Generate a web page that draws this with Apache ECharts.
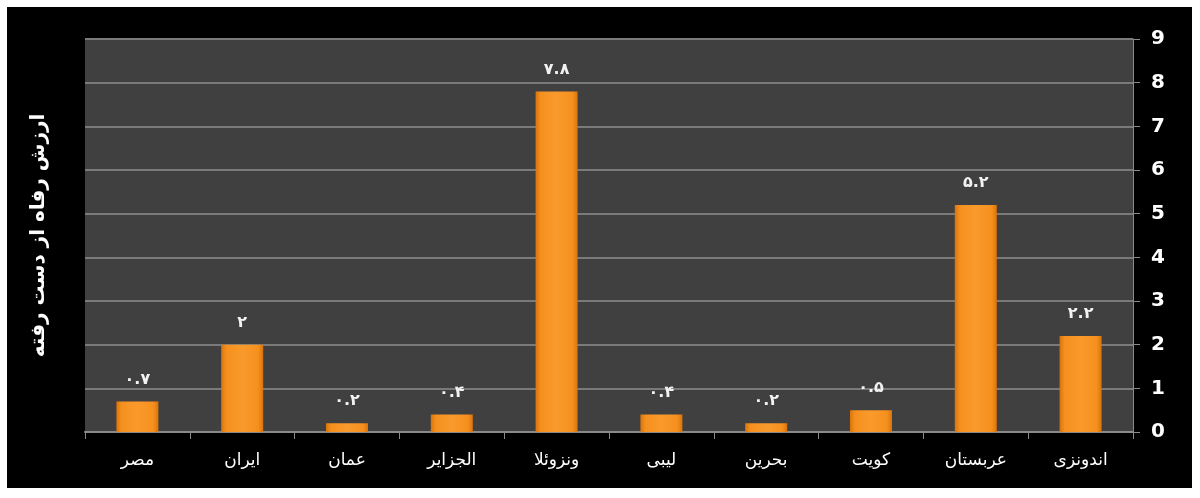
<!DOCTYPE html>
<html>
<head>
<meta charset="utf-8">
<script src="https://cdn.jsdelivr.net/npm/echarts@6/dist/echarts.min.js"></script>
<style>
html,body{margin:0;padding:0;background:#fff;width:1200px;height:498px;overflow:hidden;}
#c{position:absolute;left:7px;top:7px;width:1185px;height:481px;background:#000;}
</style>
</head>
<body>
<div id="c"></div>
<script>
const categories = ['مصر','ایران','عمان','الجزایر','ونزوئلا','لیبی','بحرین','کویت','عربستان','اندونزی'];
const values = [0.7, 2, 0.2, 0.4, 7.8, 0.4, 0.2, 0.5, 5.2, 2.2];
const yTicks = [0,1,2,3,4,5,6,7,8,9];
const yTitle = 'ارزش رفاه از دست رفته';

const fa = s => String(s).replace(/[0-9]/g, d => '۰۱۲۳۴۵۶۷۸۹'[d]);

const chart = echarts.init(document.getElementById('c'));
chart.setOption({
  backgroundColor: '#000',
  animation: false,
  grid: {left: 78, right: 59, top: 32, bottom: 56, show: true, backgroundColor: '#404040', borderWidth: 0},
  xAxis: {
    type: 'category',
    data: categories,
    axisLine: {show: true, lineStyle: {color: '#8a8a8a', width: 2}},
    axisTick: {show: true, length: 7, lineStyle: {color: '#8a8a8a', width: 1}},
    axisLabel: {color: '#fff', fontSize: 17, fontFamily: 'DejaVu Sans', fontWeight: 'normal', margin: 20}
  },
  yAxis: [{
    type: 'value',
    position: 'right',
    min: yTicks[0], max: yTicks[yTicks.length-1], interval: 1,
    axisLine: {show: true, lineStyle: {color: '#8a8a8a', width: 1}},
    axisTick: {show: true, length: 7, inside: false, lineStyle: {color: '#8a8a8a'}},
    splitLine: {show: true, lineStyle: {color: '#7a7a7a', width: 2}},
    axisLabel: {color: '#fff', fontSize: 20, fontWeight: 'bold', fontFamily: 'DejaVu Sans', margin: 18}
  },{
    type: 'value',
    position: 'left',
    min: 0, max: 9, interval: 1,
    axisLine: {show: false}, axisTick: {show: false}, axisLabel: {show: false}, splitLine: {show: false},
    name: yTitle,
    nameLocation: 'middle',
    nameRotate: 90,
    nameGap: 36,
    nameTextStyle: {color: '#fff', fontSize: 20, fontWeight: 'bold', fontFamily: 'DejaVu Sans'}
  }],
  series: [{
    type: 'bar',
    data: values,
    barWidth: 42,
    itemStyle: {
      color: new echarts.graphic.LinearGradient(0,0,1,0,[
        {offset:0, color:'#d9740c'},
        {offset:0.12, color:'#f5901e'},
        {offset:0.5, color:'#fa9a2c'},
        {offset:0.88, color:'#f5901e'},
        {offset:1, color:'#d9740c'}
      ])
    },
    label: {
      show: true,
      position: 'top',
      distance: 14,
      color: '#f2f2f2',
      fontSize: 16,
      fontWeight: 'bold',
      fontFamily: 'DejaVu Sans',
      formatter: p => fa(p.value)
    }
  }]
});
</script>
</body>
</html>
